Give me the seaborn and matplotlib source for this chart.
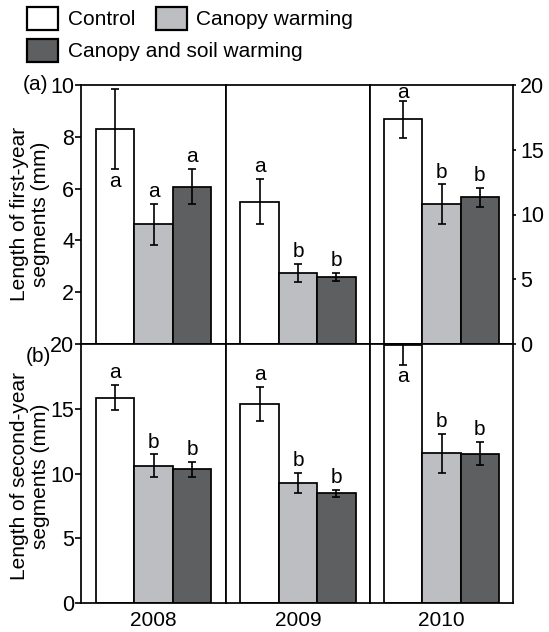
import matplotlib
matplotlib.use('Agg')
import matplotlib.pyplot as plt
import matplotlib.patches as mpatches
import seaborn as sns
import pandas as pd

# ---------------- data ----------------
years = ['2008', '2009', '2010']
treatments = ['Control', 'Canopy warming', 'Canopy and soil warming']
colors = ['#ffffff', '#bdbec2', '#5e5f61']

# first-year segments (2008, 2009 on left axis 0-10; 2010 on right axis 0-20)
first_mean_2008 = [8.29, 4.62, 6.07]
first_err_2008 = [1.55, 0.78, 0.68]
first_mean_2009 = [5.49, 2.75, 2.60]
first_err_2009 = [0.87, 0.34, 0.15]
first_mean_2010 = [17.35, 10.79, 11.33]
first_err_2010 = [1.45, 1.53, 0.73]
first_letters_2008 = ['a', 'a', 'a']
first_letters_2009 = ['a', 'b', 'b']
first_letters_2010 = ['a', 'b', 'b']

# second-year segments (axis 0-20)
second_mean_2008 = [15.86, 10.61, 10.33]
second_err_2008 = [0.95, 0.86, 0.58]
second_mean_2009 = [15.37, 9.26, 8.46]
second_err_2009 = [1.30, 0.75, 0.26]
second_mean_2010 = [19.90, 11.57, 11.52]
second_err_2010 = [1.55, 1.50, 0.90]
second_letters_2008 = ['a', 'b', 'b']
second_letters_2009 = ['a', 'b', 'b']
second_letters_2010 = ['a', 'b', 'b']

first_ticks_left = [2, 4, 6, 8, 10]
first_ticks_right = [0, 5, 10, 15, 20]
second_ticks = [0, 5, 10, 15, 20]

# ---------------- style ----------------
sns.set_theme(style='ticks')
plt.rcParams['font.family'] = ['Liberation Sans', 'DejaVu Sans']
plt.rcParams['font.size'] = 15
plt.rcParams['axes.linewidth'] = 1.25
plt.rcParams['xtick.major.width'] = 1.2
plt.rcParams['ytick.major.width'] = 1.2
plt.rcParams['text.color'] = 'black'
plt.rcParams['xtick.color'] = 'black'
plt.rcParams['ytick.color'] = 'black'
plt.rcParams['axes.edgecolor'] = 'black'

W, H = 549, 632
fig = plt.figure(figsize=(W / 100, H / 100), dpi=100)

col_edges = [81, 226, 370, 513]
row_edges = [(85, 344), (344, 603)]


def make_ax(ci, ri):
    x0, x1 = col_edges[ci], col_edges[ci + 1]
    ytop, ybot = row_edges[ri]
    return fig.add_axes([x0 / W, 1 - ybot / H, (x1 - x0) / W, (ybot - ytop) / H])


def draw(ax, year, means, errs, letters, below=None, tight_top=False):
    df = pd.DataFrame({'year': [year] * 3, 'treatment': treatments, 'value': means})
    sns.barplot(data=df, x='year', y='value', hue='treatment', hue_order=treatments,
                palette=colors, saturation=1, edgecolor='black', linewidth=1.25,
                errorbar=None, width=0.8, legend=False, ax=ax)
    bars = sorted(ax.patches, key=lambda p: p.get_x())
    for i, (bar, m, e, l) in enumerate(zip(bars, means, errs, letters)):
        xc = bar.get_x() + bar.get_width() / 2
        ax.errorbar(xc, m, yerr=e, fmt='none', ecolor='black', elinewidth=1.2,
                    capsize=2.7, capthick=1.2)
        if below == i:
            ax.annotate(l, (xc, m - e), xytext=(0, -1.5), textcoords='offset points',
                        ha='center', va='top', fontsize=15)
        else:
            off = 2 if (tight_top and i == 0) else 5
            ax.annotate(l, (xc, m + e), xytext=(0, off), textcoords='offset points',
                        ha='center', va='baseline', fontsize=15)
    ax.set_xlim(-0.5, 0.5)
    ax.set_xlabel('')
    ax.set_ylabel('')


# top row
a00 = make_ax(0, 0)
draw(a00, '2008', first_mean_2008, first_err_2008, first_letters_2008, below=0)
a00.set_ylim(0, 10)
a00.set_yticks(first_ticks_left)
a00.tick_params(axis='y', length=4.3, pad=0.5, labelsize=15.5)

a01 = make_ax(1, 0)
draw(a01, '2009', first_mean_2009, first_err_2009, first_letters_2009)
a01.set_ylim(0, 10)
a01.tick_params(axis='y', left=False, labelleft=False)

a02 = make_ax(2, 0)
draw(a02, '2010', first_mean_2010, first_err_2010, first_letters_2010, tight_top=True)
a02.set_ylim(0, 20)
a02.yaxis.tick_right()
a02.set_yticks(first_ticks_right)
a02.tick_params(axis='y', length=2.5, pad=2.5, labelsize=15.5)

for ax in (a00, a01, a02):
    ax.tick_params(axis='x', bottom=False, labelbottom=False)

# bottom row
b00 = make_ax(0, 1)
draw(b00, '2008', second_mean_2008, second_err_2008, second_letters_2008)
b01 = make_ax(1, 1)
draw(b01, '2009', second_mean_2009, second_err_2009, second_letters_2009)
b02 = make_ax(2, 1)
draw(b02, '2010', second_mean_2010, second_err_2010, second_letters_2010, below=0)
for ax in (b00, b01, b02):
    ax.set_ylim(0, 20)
    ax.tick_params(axis='x', length=0, pad=5.5, labelsize=15)
b00.set_yticks(second_ticks)
b00.tick_params(axis='y', length=4.3, pad=0.5, labelsize=15.5)
for ax in (b01, b02):
    ax.tick_params(axis='y', left=False, labelleft=False)

# panel tags
a00.text((48 - 81) / 145, 1.0, '(a)', transform=a00.transAxes, ha='right', va='center', fontsize=15)
b00.text((51 - 81) / 145, 1 - 13 / 259, '(b)', transform=b00.transAxes, ha='right', va='center', fontsize=15)

# y labels
fig.text(30 / W, 1 - 214 / H, 'Length of first-year\nsegments (mm)', rotation=90,
         ha='center', va='center', ma='center', fontsize=15, linespacing=1.15)
fig.text(30 / W, 1 - 476 / H, 'Length of second-year\nsegments (mm)', rotation=90,
         ha='center', va='center', ma='center', fontsize=15, linespacing=1.15)

# legend
handles = [mpatches.Patch(facecolor=c, edgecolor='black', linewidth=1.6) for c in colors]
leg_kw = dict(loc='upper left', frameon=False, borderpad=0, borderaxespad=0,
              handlelength=1.5, handleheight=1.3, handletextpad=0.45,
              columnspacing=1.0, fontsize=15)
fig.legend(handles[:2], treatments[:2], ncol=2, bbox_to_anchor=(27 / W, 1 - 7 / H), **leg_kw)
fig.legend(handles[2:], treatments[2:], ncol=1, bbox_to_anchor=(27 / W, 1 - 39 / H), **leg_kw)

fig.savefig('out.png', dpi=100)
